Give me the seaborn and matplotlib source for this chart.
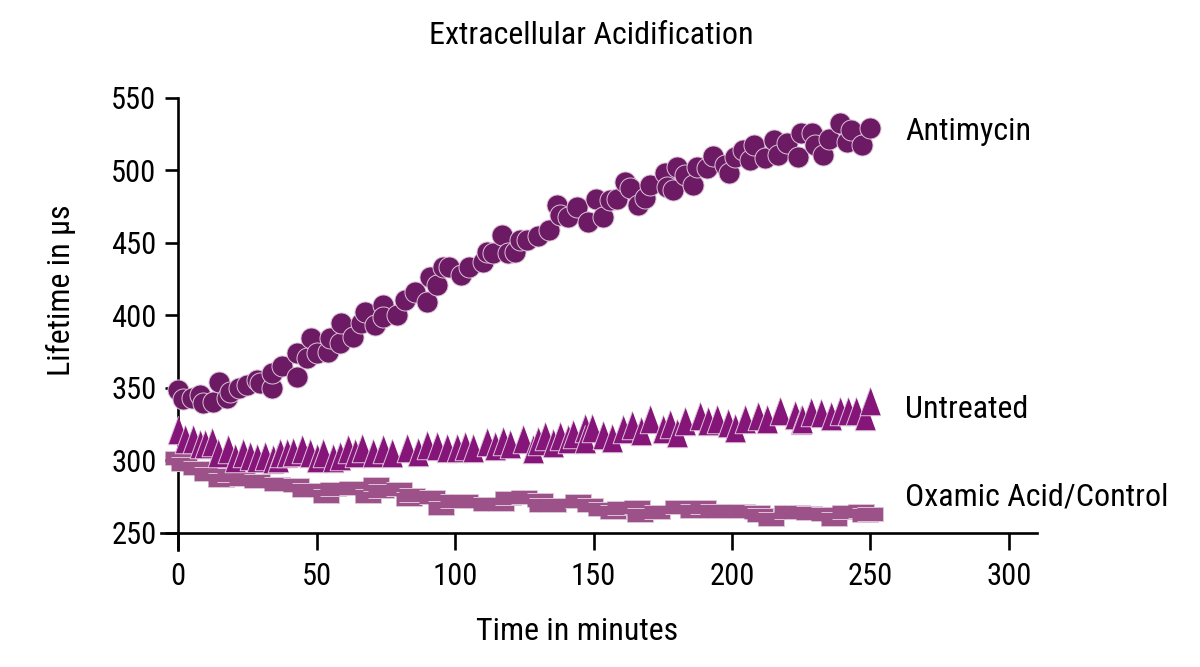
import matplotlib

matplotlib.use("Agg")
import matplotlib.pyplot as plt
from matplotlib import font_manager
import seaborn as sns

# ---------------------------------------------------------------------------
# Data (time in minutes, lifetime in µs)
# ---------------------------------------------------------------------------

ANT_T = [0, 1.8, 5, 8, 9, 12.6, 14.8, 17.7, 18.8, 22,
         25, 28.5, 29.5, 34, 34, 37.5, 43, 43, 46.5, 48,
         50, 54, 55, 58.5, 59, 63, 66, 67.5, 71, 74,
         74, 79, 82, 85.5, 90, 91, 93.5, 95.7, 98, 102,
         105, 110, 111.5, 113.7, 117, 119, 121.6, 123.5, 126, 130,
         134, 137, 138, 140.8, 144, 148, 151, 153.4, 156, 158.5,
         161.4, 163, 166, 168.6, 170.4, 175.8, 176.5, 178.7, 180, 183,
         186, 187.4, 191, 193, 197.5, 199, 201, 204, 206.5, 208,
         212, 215, 216.6, 220, 224, 225, 229, 230, 233, 235,
         239, 241.5, 243, 247, 250]
ANT_V = [348.6, 342, 343, 345, 339.6, 340, 354, 343, 347, 350,
         352, 355, 353, 350, 360, 365, 357.6, 374, 370.5, 384,
         374, 375, 384.5, 381, 395, 385, 395, 402, 393.6, 407,
         398.6, 400, 410.6, 416, 409, 426.5, 421, 433, 433, 428,
         433.6, 437, 444, 443, 455.5, 443, 444, 452, 452, 455,
         459, 476, 469, 468, 475, 464.5, 480, 468, 479.7, 480,
         492, 488, 476, 481, 490, 498, 488.6, 486.6, 502.6, 497,
         490, 502.6, 501.7, 510, 504, 498, 509, 514, 507, 517.6,
         508.6, 521, 510.7, 519, 509, 526, 526, 517.6, 510.7, 522,
         533, 519.6, 528, 517.6, 529]

UNT_T = [0, 2.5, 5.5, 7.9, 9.7, 12.2, 14.6, 18.2, 20.6, 23.6,
         26, 28.4, 31.4, 34.4, 36.2, 36.8, 39.2, 41.6, 44.6, 47.7,
         50, 52.5, 56.1, 58.5, 61.5, 63.9, 66.3, 70.5, 74.1, 77.1,
         82.5, 86.8, 89.8, 93.4, 97, 100.6, 103.6, 106.6, 111.4, 114.4,
         117.5, 119.8, 124.7, 128, 130, 132.5, 135.5, 137.9, 140.9, 142.7,
         146.9, 147, 149.3, 153.6, 156.6, 160.8, 163.8, 167, 170.4, 175.2,
         177.6, 180, 183, 188.5, 191.5, 194.5, 198.7, 201, 204.7, 209.5,
         212.5, 217.3, 222.7, 225, 225.1, 228.7, 232.3, 235.9, 238.9, 241.9,
         244.9, 248, 249.7]
UNT_V = [321, 314.4, 314.4, 311, 311, 312.6, 305.2, 308, 301.8, 305.2,
         302.9, 301.8, 302.9, 300.6, 301.3, 305.2, 305.2, 305.7, 307.5, 305.2,
         301.5, 305.2, 301.8, 302.9, 308, 304.8, 308.7, 305.2, 308, 305.2,
         308.7, 305.7, 310.3, 309.8, 308.7, 308.7, 309.8, 308.7, 312.6, 309.8,
         313.3, 311, 314.4, 308, 313.3, 316.7, 312.1, 316.7, 314.4, 317.9,
         322.5, 314.4, 322.5, 317.2, 315.6, 321.8, 324, 320, 328.7, 321.3,
         324.8, 319, 327, 330.5, 327, 328.7, 325.9, 322.4, 328.7, 330.5,
         328.7, 334, 331, 328, 328.7, 333.3, 332.3, 330.5, 334, 334,
         334, 330.7, 340.9]

OXA_T = [0, 2.2, 6.5, 10.5, 15.5, 18.9, 23, 28.4, 35.7, 42.5, 45.8,
         52.3, 53.4, 55.8, 62.7, 68.6, 71.6, 73.4, 79.7, 83.3, 84.6,
         91.7, 95, 99.4, 103.5, 111.1, 116.7, 119, 125, 130.6, 131.3,
         135.2, 144.3, 148.9, 152.6, 156.9, 159.6, 165.7, 166.9, 172.8, 180.4,
         186, 189.6, 193.3, 195.8, 203.5, 209, 210.2, 214, 219.9, 223.3,
         227.8, 233.2, 237, 240.8, 246.7, 247.9, 250]
OXA_V = [301.8, 297.6, 294.3, 290.7, 286.3, 289.8, 287, 285.4, 283.8, 283.1, 279.2,
         279.7, 275.1, 279.9, 280.8, 275.1, 283.7, 278.5, 280.1, 273, 276.2,
         274.5, 267.2, 271.6, 271.9, 269.5, 269.5, 274, 274.3, 272.8, 268.9,
         268.8, 272.1, 268.8, 266.2, 264.1, 267, 267.4, 261.9, 264.3, 267.4,
         265.2, 267.4, 265.2, 265, 265.2, 264.3, 261.9, 259.7, 264, 264,
         263.8, 262.9, 259.7, 264, 265, 262.2, 262.7]

X_TICKS = [0, 50, 100, 150, 200, 250, 300]
Y_TICKS = [250, 300, 350, 400, 450, 500, 550]

TRIANGLE = [(0, 1), (-0.73, -1), (0.73, -1)]
RECTANGLE = [(-1, -0.5), (1, -0.5), (1, 0.5), (-1, 0.5)]

# (x, y, marker, size, colour, label, label_y)
SERIES = [
    (OXA_T, OXA_V, RECTANGLE, 360, "#9c5289", "Oxamic Acid/Control", 274.8),
    (UNT_T, UNT_V, TRIANGLE, 420, "#86157a", "Untreated", 334.8),
    (ANT_T, ANT_V, "o", 230, "#6c1a63", "Antimycin", 526.6),
]

TEXT_SIZE = 23
TICK_SIZE = 22

sns.set_theme(style="ticks")
installed = {f.name for f in font_manager.fontManager.ttflist}
font = next(
    (f for f in ["Roboto Condensed", "Liberation Sans Narrow", "Roboto"] if f in installed),
    "DejaVu Sans",
)
plt.rcParams["font.family"] = [font, "DejaVu Sans"]

fig = plt.figure(figsize=(12, 6.67), dpi=100)
ax = fig.add_axes([0.1345, 0.1754, 0.7294, 0.6777])

for xs, ys, marker, size, colour, label, label_y in SERIES:
    sns.scatterplot(
        x=xs, y=ys, ax=ax, marker=marker, s=size, color=colour,
        edgecolor="#dcc3d8", linewidth=0.7, zorder=3, clip_on=False,
    )
    ax.text(262.5, label_y, label, ha="left", va="center",
            fontsize=TEXT_SIZE, color="black")

ax.set_xlim(-6, 310)
ax.set_ylim(238, 550)
ax.set_xticks(X_TICKS)
ax.set_yticks(Y_TICKS)

sns.despine(ax=ax)
ax.spines["left"].set_position(("data", 0))
ax.spines["bottom"].set_position(("data", 250))
for side in ["left", "bottom"]:
    ax.spines[side].set_linewidth(1.9)
    ax.spines[side].set_color("black")

ax.tick_params(axis="x", length=12, width=1.9, pad=9, labelsize=TICK_SIZE, colors="black")
ax.tick_params(axis="y", length=9.5, width=1.9, pad=6, labelsize=TICK_SIZE, colors="black")

ax.set_xlabel("Time in minutes", fontsize=TEXT_SIZE, va="center", color="black")
ax.xaxis.set_label_coords(0.4748, -0.181)
ax.set_ylabel("Lifetime in µs", fontsize=TEXT_SIZE, va="center", color="black")
ax.yaxis.set_label_coords(-0.1147, 0.575)

fig.text(0.4925, 1 - 35 / 667, "Extracellular Acidification", ha="center",
         va="center", fontsize=TEXT_SIZE, color="black")

fig.savefig("out.png", dpi=100)
